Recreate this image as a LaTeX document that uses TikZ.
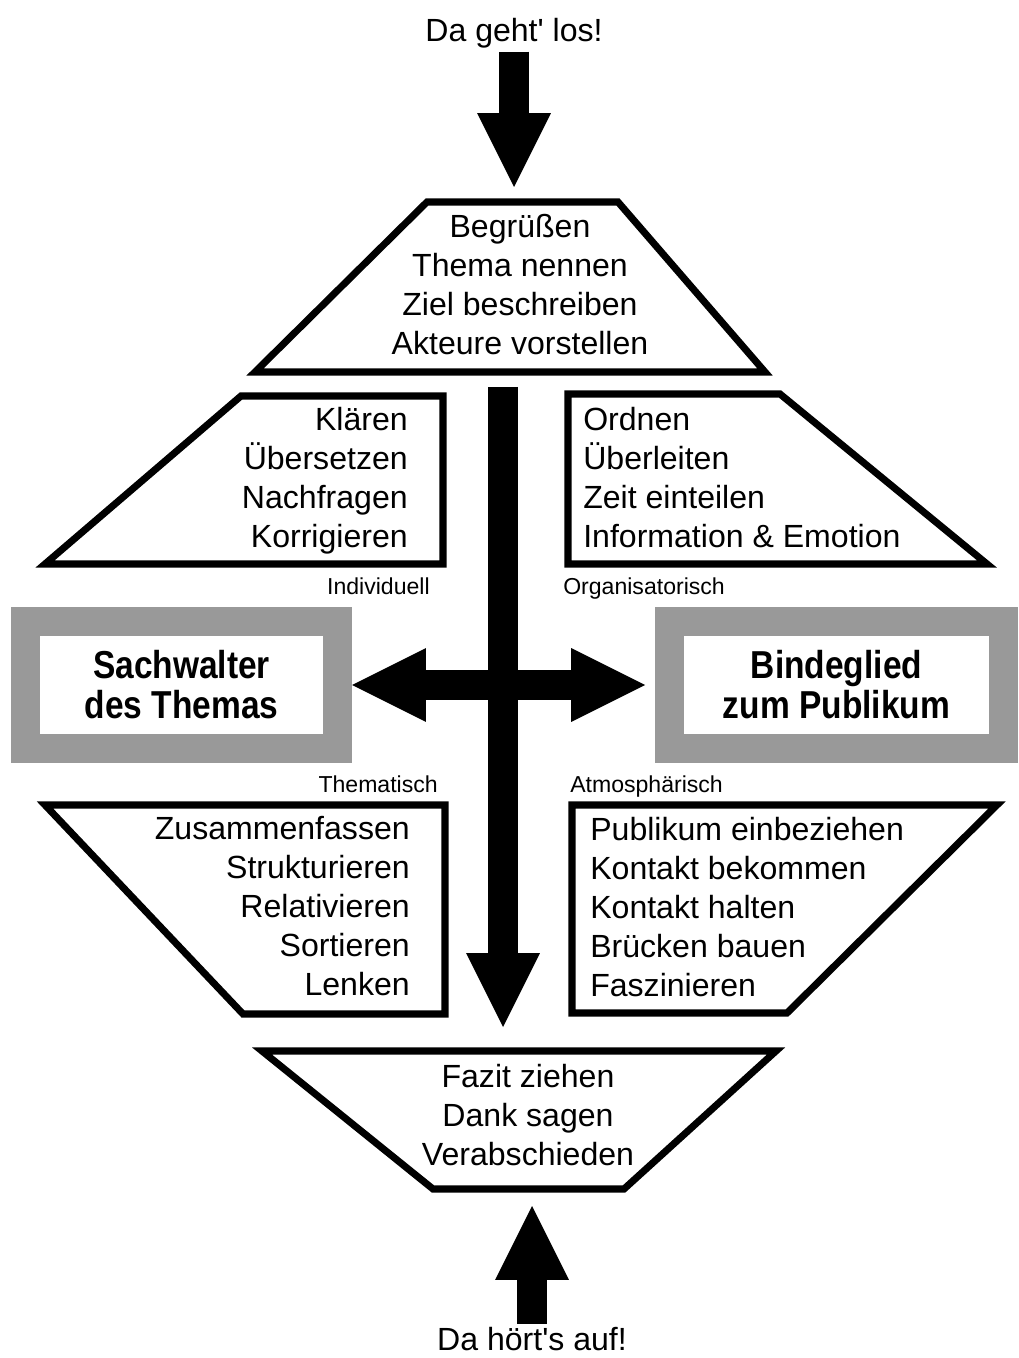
\documentclass[tikz,border=0pt]{standalone}
\usepackage{fontspec}
\setmainfont{Liberation Sans}
\newfontfamily\rolefont[FakeStretch=0.86]{Liberation Sans Bold}
\usetikzlibrary{arrows.meta}
\definecolor{boxgray}{HTML}{999999}

\begin{document}
\begin{tikzpicture}[
    x=0.025cm, y=-0.025cm,
    txt/.style={inner sep=0pt, font=\fontsize{22.8}{27.7}\selectfont, execute at begin node=\strut, execute at end node=\strut},
    motto/.style={inner sep=0pt, font=\fontsize{22.8}{27.7}\selectfont},
    tag/.style={inner sep=0pt, font=\fontsize{16.4}{19}\selectfont},
    frame/.style={line width=5pt, line join=miter},
    rolebox/.style={draw=boxgray, line width=20.6pt, fill=white, align=center, minimum height=3.175cm, font=\rolefont\fontsize{27.7}{28.5}\selectfont},
    bigtip/.tip={Triangle[length=52.6pt, width=52.6pt, line width=0pt]},
    blockarrow/.style={line width=21.3pt, -bigtip}
  ]
  \useasboundingbox (0,0) rectangle (1018,1358);

  % Anfang
  \node[motto, anchor=base] (start) at (514,42) {Da geht\textquotesingle{} los!};
  \coordinate (starttip) at (514,187);
  \draw[blockarrow, shorten <=2pt] (start.south) -- (starttip);

  \draw[frame] (427,202) -- (618,202) -- (765,372) -- (255,372) -- cycle;
  \node[txt, align=center] (welcome) at (520,290) {Begrüßen\\Thema nennen\\Ziel beschreiben\\Akteure vorstellen};

  % Rollen oben
  \draw[frame] (241,396) -- (443,396) -- (443,564) -- (45,564) -- cycle;
  \node[txt, align=right, anchor=east] (clarify) at (408,483) {Klären\\Übersetzen\\Nachfragen\\Korrigieren};
  \node[tag, anchor=base east] (indiv) at (430,594) {Individuell};

  \draw[frame] (568,394) -- (780,394) -- (987,564) -- (568,564) -- cycle;
  \node[txt, align=left, anchor=west] (arrange) at (583,483) {Ordnen\\Überleiten\\Zeit einteilen\\Information \& Emotion};
  \node[tag, anchor=base west] (orga) at (563,594) {Organisatorisch};

  % Mitte
  \node[rolebox, minimum width=7.8cm] (sach) at (181.5,685) {Sachwalter\\des Themas};
  \node[rolebox, minimum width=8.35cm] (binde) at (836.5,685) {Bindeglied\\zum Publikum};

  \coordinate (flowstart) at (503,387);
  \coordinate (flowend) at (503,1027);
  \draw[blockarrow] (flowstart) -- (flowend);
  \draw[blockarrow, bigtip-bigtip, shorten >=7pt] (sach) -- (binde);

  % Rollen unten
  \node[tag, anchor=base east] (them) at (438,792) {Thematisch};
  \draw[frame] (45,805) -- (445,805) -- (445,1014) -- (243,1014) -- cycle;
  \node[txt, align=right, anchor=east] (summary) at (410,912) {Zusammenfassen\\Strukturieren\\Relativieren\\Sortieren\\Lenken};

  \node[tag, anchor=base west] (atmo) at (570,792) {Atmosphärisch};
  \draw[frame] (572,805) -- (997,805) -- (787,1013) -- (572,1013) -- cycle;
  \node[txt, align=left, anchor=west] (contact) at (590,913) {Publikum einbeziehen\\Kontakt bekommen\\Kontakt halten\\Brücken bauen\\Faszinieren};

  % Ende
  \draw[frame] (262,1051) -- (776,1051) -- (624,1189) -- (433,1189) -- cycle;
  \node[txt, align=center] (farewell) at (528,1121) {Fazit ziehen\\Dank sagen\\Verabschieden};

  \node[motto, anchor=base] (finish) at (532,1350) {Da hört\textquotesingle{}s auf!};
  \coordinate (endtip) at (532,1206);
  \draw[blockarrow, shorten <=2pt] (finish.north) -- (endtip);
\end{tikzpicture}
\end{document}
